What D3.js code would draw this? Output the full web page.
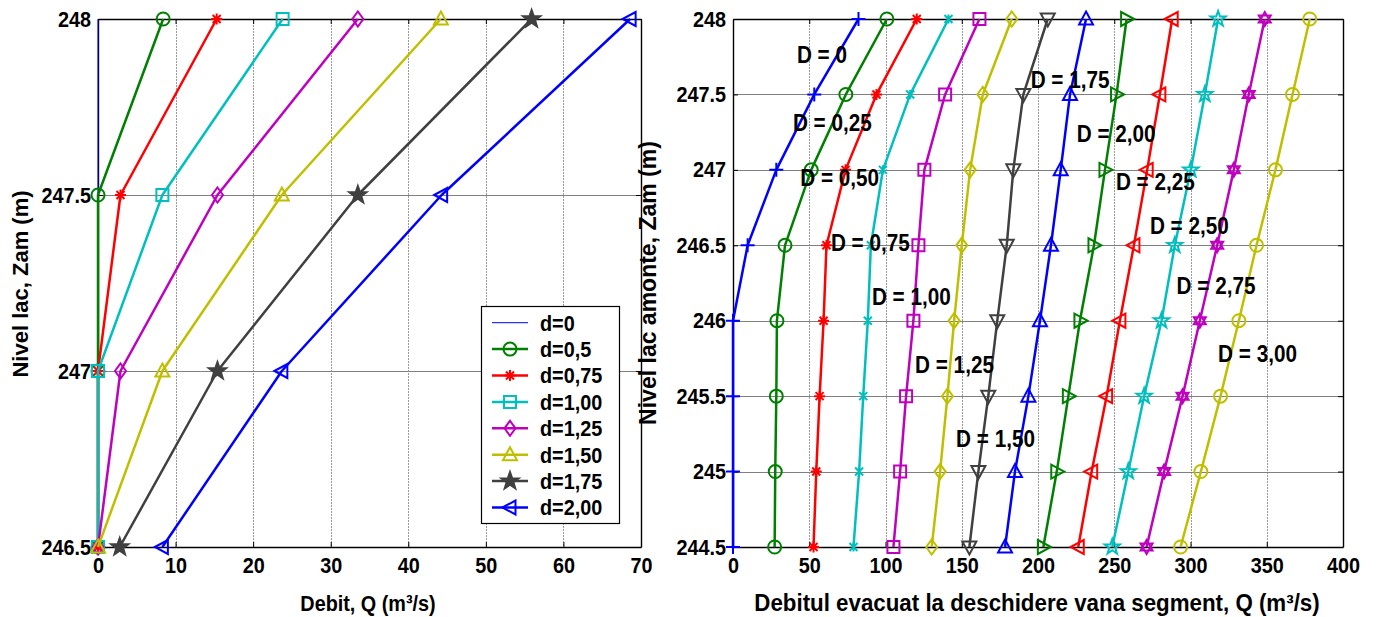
<!DOCTYPE html>
<html>
<head>
<meta charset="utf-8">
<script src="https://cdn.jsdelivr.net/npm/d3@7"></script>
<style>
  body { margin: 0; background: #fff; }
  text { font-family: "Liberation Sans", Arial, sans-serif; font-weight: bold; fill: #000; }
</style>
</head>
<body>
<script>
// ---- left chart data: Q (m3/s) at each lake level ----
const levelsLeft = [246.5, 247, 247.5, 248];
const qLeft0   = [0, 0, 0, 0];
const qLeft050 = [0, 0, 0, 8.4];
const qLeft075 = [0, 0, 2.9, 15.3];
const qLeft100 = [0, 0, 8.3, 23.8];
const qLeft125 = [0, 2.9, 15.4, 33.5];
const qLeft150 = [0, 8.3, 23.7, 44.2];
const qLeft175 = [2.8, 15.4, 33.5, 55.9];
const qLeft200 = [8.3, 23.7, 44.3, 68.6];
const leftNames = ['d=0', 'd=0,5', 'd=0,75', 'd=1,00', 'd=1,25', 'd=1,50', 'd=1,75', 'd=2,00'];
const leftXTicks = [0, 10, 20, 30, 40, 50, 60, 70];
const leftYTicks = [246.5, 247, 247.5, 248];

// ---- right chart data ----
const levelsRight = [244.5, 245, 245.5, 246, 246.5, 247, 247.5, 248];
const qD000 = [0, 0, 0, 0, 9.6, 28.4, 53.3, 82.3];
const qD025 = [27.3, 27.7, 28.4, 28.8, 34.1, 51.3, 74.0, 100.9];
const qD050 = [52.8, 54.6, 56.8, 59.4, 61.3, 73.8, 94.1, 120.5];
const qD075 = [79.0, 82.7, 85.4, 88.4, 90.4, 98.3, 116.2, 141.3];
const qD100 = [105.2, 109.6, 113.5, 118.3, 121.6, 125.5, 139.1, 161.6];
const qD125 = [130.3, 135.8, 140.6, 145.0, 150.0, 155.5, 163.8, 182.8];
const qD150 = [155.0, 160.9, 167.4, 173.3, 179.5, 183.8, 190.4, 206.4];
const qD175 = [178.4, 184.9, 193.7, 201.3, 208.5, 214.9, 221.0, 231.5];
const qD200 = [203.5, 212.3, 219.9, 227.5, 236.7, 243.9, 251.5, 258.1];
const qD225 = [226.4, 235.2, 245.0, 253.7, 262.9, 271.6, 279.9, 288.0];
const qD250 = [248.7, 259.2, 269.6, 281.0, 289.7, 300.2, 309.4, 318.1];
const qD275 = [271.2, 282.7, 294.8, 306.1, 317.5, 328.4, 338.2, 348.7];
const qD300 = [293.5, 306.8, 319.7, 331.7, 343.3, 355.7, 366.9, 378.2];
const rightNames = ['D = 0', 'D = 0,25', 'D = 0,50', 'D = 0,75', 'D = 1,00', 'D = 1,25', 'D = 1,50',
                    'D = 1,75', 'D = 2,00', 'D = 2,25', 'D = 2,50', 'D = 2,75', 'D = 3,00'];
// where each curve label sits, in data units (Q, level)
const labelQ = [41.9, 39.3, 44.1, 64.2, 91.1, 119.4, 146.3, 195.2, 225.4, 251.1, 273.4, 290.9, 318.1];
const labelZ = [247.76, 247.31, 246.95, 246.52, 246.16, 245.71, 245.22, 247.6, 247.24, 246.92, 246.63, 246.23, 245.78];
const rightXTicks = [0, 50, 100, 150, 200, 250, 300, 350, 400];
const rightYTicks = [244.5, 245, 245.5, 246, 246.5, 247, 247.5, 248];

// matlab colours
const C = {
  b: '#0000ff', g: '#008000', r: '#ff0000', c: '#00bfbf',
  m: '#bf00bf', y: '#bfbf00', k: '#404040'
};

const W = 1379, H = 617;
const svg = d3.select('body').append('svg').attr('width', W).attr('height', H);

// marker outlines, centred on 0,0
function starPath(n, ro, ri) {
  const pts = [];
  for (let i = 0; i < 2 * n; i++) {
    const a = -Math.PI / 2 + i * Math.PI / n;
    const r = i % 2 ? ri : ro;
    pts.push([r * Math.cos(a), r * Math.sin(a)]);
  }
  return 'M' + pts.map(p => p[0].toFixed(2) + ',' + p[1].toFixed(2)).join('L') + 'Z';
}
function markerPath(type) {
  switch (type) {
    case 'o': return 'M6.5,0A6.5,6.5 0 1,1 -6.5,0A6.5,6.5 0 1,1 6.5,0Z';
    case 's': return 'M-6,-6H6V6H-6Z';
    case 'd': return 'M0,-7.5L5.5,0L0,7.5L-5.5,0Z';
    case '^': return 'M0,-7.5L7,5.5L-7,5.5Z';
    case 'v': return 'M0,7.5L7,-5.5L-7,-5.5Z';
    case '<': return 'M-7.5,0L5.5,-7L5.5,7Z';
    case '>': return 'M7.5,0L-5.5,-7L-5.5,7Z';
    case '+': return 'M-7,0H7M0,-7V7';
    case '*': return 'M-5.5,0H5.5M0,-5.5V5.5M-4,-4L4,4M-4,4L4,-4';
    case 'x': return 'M-4,-4L4,4M-4,4L4,-4M0,-4.5V4.5';
    case 'p': return starPath(5, 8, 3.2);
    case 'P': return starPath(5, 9, 3.6);
    case 'h': return 'M0,-7L6,3.5L-6,3.5ZM0,7L6,-3.5L-6,-3.5Z';
    default: return null;
  }
}

// the source figure's lettering is narrow and tall; squeeze text horizontally
function squeeze(sel, k) {
  sel.each(function() {
    const w = this.getComputedTextLength();
    d3.select(this).attr('textLength', w * k).attr('lengthAdjust', 'spacingAndGlyphs');
  });
}

function drawChart(opt) {
  const g = svg.append('g');
  const x = d3.scaleLinear().domain(opt.xDomain).range([opt.left, opt.right]);
  const y = d3.scaleLinear().domain(opt.yDomain).range([opt.bottom, opt.top]);

  // grid
  g.append('g').selectAll('line')
    .data(opt.xTicks.slice(1, -1))
    .join('line')
    .attr('x1', d => Math.round(x(d)) + 0.5).attr('x2', d => Math.round(x(d)) + 0.5)
    .attr('y1', opt.top).attr('y2', opt.bottom)
    .attr('stroke', '#9a9a9a').attr('stroke-width', 1).attr('stroke-dasharray', '2,1');
  g.append('g').selectAll('line')
    .data(opt.yTicks.slice(1, -1))
    .join('line')
    .attr('x1', opt.left).attr('x2', opt.right)
    .attr('y1', d => Math.round(y(d)) + 0.5).attr('y2', d => Math.round(y(d)) + 0.5)
    .attr('stroke', '#808080').attr('stroke-width', 1);

  // axes, ticks pointing inward on all four sides
  const fmt = d => String(d);
  const styleAxis = sel => {
    sel.attr('font-family', null).attr('font-size', null);
    sel.select('.domain').attr('stroke', '#000').attr('stroke-width', 1.4);
    sel.selectAll('.tick line').attr('stroke', '#000');
    sel.selectAll('text').style('font-size', '22px');
  };
  g.append('g').attr('transform', `translate(0,${opt.bottom})`)
    .call(d3.axisBottom(x).tickValues(opt.xTicks).tickFormat(fmt).tickSizeInner(-5).tickSizeOuter(0).tickPadding(10))
    .call(styleAxis);
  g.append('g').attr('transform', `translate(0,${opt.top})`)
    .call(d3.axisTop(x).tickValues(opt.xTicks).tickFormat('').tickSizeInner(-5).tickSizeOuter(0))
    .call(styleAxis);
  g.append('g').attr('transform', `translate(${opt.left},0)`)
    .call(d3.axisLeft(y).tickValues(opt.yTicks).tickFormat(fmt).tickSizeInner(-5).tickSizeOuter(0).tickPadding(7))
    .call(styleAxis);
  g.append('g').attr('transform', `translate(${opt.right},0)`)
    .call(d3.axisRight(y).tickValues(opt.yTicks).tickFormat('').tickSizeInner(-5).tickSizeOuter(0))
    .call(styleAxis);

  // series: line first, then its markers (matlab order)
  const line = d3.line().x(d => x(d[0])).y(d => y(d[1]));
  opt.series.forEach(s => {
    const pts = s.q.map((q, i) => [q, opt.levels[i]]);
    g.append('path').datum(pts)
      .attr('d', line).attr('fill', 'none')
      .attr('stroke', s.color).attr('stroke-width', s.lw || 2.5)
      .attr('stroke-linejoin', 'round');
    const mp = markerPath(s.marker);
    if (mp) {
      g.append('g').selectAll('path').data(pts).join('path')
        .attr('d', mp)
        .attr('transform', d => `translate(${x(d[0])},${y(d[1])})`)
        .attr('fill', s.filled ? s.color : 'none')
        .attr('stroke', s.color).attr('stroke-width', 2)
        .attr('stroke-linejoin', 'miter');
    }
  });
  return { g, x, y };
}

// ---------- left chart ----------
const left = drawChart({
  left: 98, right: 641, top: 19, bottom: 547,
  xDomain: [0, 70], yDomain: [246.5, 248],
  xTicks: leftXTicks, yTicks: leftYTicks, levels: levelsLeft,
  series: [
    { q: qLeft0,   color: C.b, marker: 'none', lw: 1 },
    { q: qLeft050, color: C.g, marker: 'o' },
    { q: qLeft075, color: C.r, marker: '*' },
    { q: qLeft100, color: C.c, marker: 's' },
    { q: qLeft125, color: C.m, marker: 'd' },
    { q: qLeft150, color: C.y, marker: '^' },
    { q: qLeft175, color: C.k, marker: 'P', filled: true },
    { q: qLeft200, color: C.b, marker: '<' }
  ]
});

// legend
const legendStyle = [
  { color: C.b, marker: 'none', lw: 1 },
  { color: C.g, marker: 'o' },
  { color: C.r, marker: '*' },
  { color: C.c, marker: 's' },
  { color: C.m, marker: 'd' },
  { color: C.y, marker: '^' },
  { color: C.k, marker: 'P', filled: true },
  { color: C.b, marker: '<' }
];
const lg = svg.append('g');
lg.append('rect').attr('x', 481.5).attr('y', 306.5).attr('width', 138).attr('height', 217)
  .attr('fill', '#fff').attr('stroke', '#000').attr('stroke-width', 1.2);
leftNames.forEach((name, i) => {
  const st = legendStyle[i];
  const yy = 322.7 + i * 26.4;
  lg.append('line').attr('x1', 492).attr('x2', 528).attr('y1', yy).attr('y2', yy)
    .attr('stroke', st.color).attr('stroke-width', st.lw || 2.5);
  const mp = markerPath(st.marker);
  if (mp) {
    lg.append('path').attr('d', mp).attr('transform', `translate(510,${yy})`)
      .attr('fill', st.filled ? st.color : 'none').attr('stroke', st.color).attr('stroke-width', 2);
  }
  lg.append('text').attr('x', 540).attr('y', yy).attr('dy', '0.36em')
    .attr('class', 'narrow').style('font-size', '22px').text(name);
});

// axis titles
svg.append('text').attr('transform', 'translate(28,284) rotate(-90)')
  .attr('text-anchor', 'middle').style('font-size', '22px').text('Nivel lac, Zam (m)');
svg.append('text').attr('x', 368).attr('y', 611)
  .attr('class', 'narrow').attr('text-anchor', 'middle').style('font-size', '22px')
  .text('Debit, Q (m³/s)');

// ---------- right chart ----------
const right = drawChart({
  left: 733, right: 1343, top: 19, bottom: 547,
  xDomain: [0, 400], yDomain: [244.5, 248],
  xTicks: rightXTicks, yTicks: rightYTicks, levels: levelsRight,
  series: [
    { q: qD000, color: C.b, marker: '+' },
    { q: qD025, color: C.g, marker: 'o' },
    { q: qD050, color: C.r, marker: '*' },
    { q: qD075, color: C.c, marker: 'x' },
    { q: qD100, color: C.m, marker: 's' },
    { q: qD125, color: C.y, marker: 'd' },
    { q: qD150, color: C.k, marker: 'v' },
    { q: qD175, color: C.b, marker: '^' },
    { q: qD200, color: C.g, marker: '>' },
    { q: qD225, color: C.r, marker: '<' },
    { q: qD250, color: C.c, marker: 'p' },
    { q: qD275, color: C.m, marker: 'h' },
    { q: qD300, color: C.y, marker: 'o' }
  ]
});

// curve labels
right.g.append('g').selectAll('text').data(rightNames).join('text')
  .attr('class', 'narrow')
  .attr('x', (d, i) => right.x(labelQ[i]))
  .attr('y', (d, i) => right.y(labelZ[i]))
  .attr('dy', '0.36em')
  .style('font-size', '23px')
  .text(d => d);

svg.append('text').attr('transform', 'translate(656,283) rotate(-90)')
  .attr('text-anchor', 'middle').style('font-size', '23px').text('Nivel lac amonte, Zam (m)');
const rx = svg.append('text').attr('x', 1037).attr('y', 611)
  .attr('text-anchor', 'middle').style('font-size', '23px')
  .text('Debitul evacuat la deschidere vana segment, Q (m³/s)');

// horizontal lettering: narrow it like the original
squeeze(svg.selectAll('.tick text'), 0.9);
squeeze(svg.selectAll('text.narrow'), 0.9);
squeeze(rx, 0.97);
</script>
</body>
</html>
